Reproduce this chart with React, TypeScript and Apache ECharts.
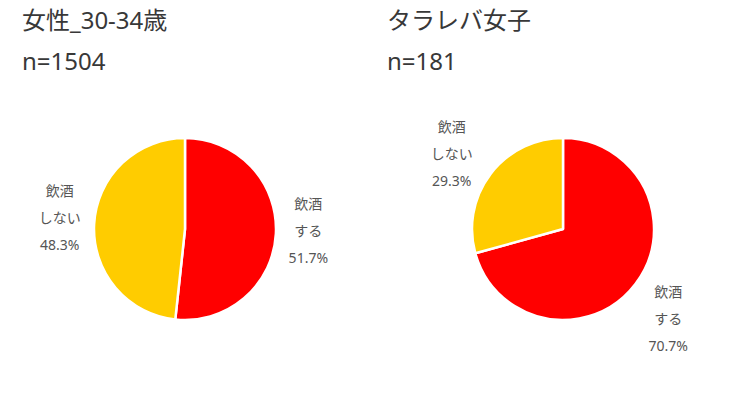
import React, { useEffect, useRef } from "react";
import * as echarts from "echarts";

const categories = ["飲酒\nする", "飲酒\nしない"];
const colors = ["#ff0000", "#ffcc00"];
const leftTitle = "女性_30-34歳";
const leftN = "n=1504";
const leftValues = [51.7, 48.3];
const rightTitle = "タラレバ女子";
const rightN = "n=181";
const rightValues = [70.7, 29.3];

const FONT = "'Noto Sans', 'Noto Sans CJK JP', sans-serif";

function pieSeries(values: number[], center: [number, number]) {
  return {
    type: "pie",
    center,
    radius: 91,
    startAngle: 90,
    clockwise: true,
    silent: true,
    label: { show: false },
    labelLine: { show: false },
    itemStyle: { borderColor: "#ffffff", borderWidth: 2.5 },
    data: values.map((v, i) => ({
      name: categories[i],
      value: v,
      itemStyle: { color: colors[i] },
    })),
  };
}

function labelSeries(values: number[], center: [number, number], radius: [number, number]) {
  return {
    type: "pie",
    center,
    radius,
    startAngle: 90,
    clockwise: true,
    silent: true,
    itemStyle: { color: "transparent", borderWidth: 0 },
    emphasis: { disabled: true },
    labelLine: { show: false },
    label: {
      show: true,
      position: "inside",
      color: "#555555",
      fontSize: 14,
      lineHeight: 27,
      fontFamily: FONT,
      align: "center",
      formatter: (p: any) => `${p.name}\n${Number(p.value).toFixed(1)}%`,
    },
    data: values.map((v, i) => ({ name: categories[i], value: v })),
  };
}

export default function App() {
  const ref = useRef<HTMLDivElement>(null);
  useEffect(() => {
    document.body.style.margin = "0";
    const chart = echarts.init(ref.current!, null, { renderer: "svg" });
    const titleStyle = {
      color: "#383838",
      fontSize: 24,
      fontWeight: "normal" as const,
      lineHeight: 41,
      fontFamily: FONT,
    };
    chart.setOption({
      animation: false,
      backgroundColor: "#ffffff",
      title: [
        { text: `${leftTitle}\n${leftN}`, left: 22, top: -1, padding: 0, textStyle: titleStyle },
        { text: `${rightTitle}\n${rightN}`, left: 387, top: -1, padding: 0, textStyle: titleStyle },
      ],
      series: [
        pieSeries(leftValues, [185, 229]),
        pieSeries(rightValues, [563, 229]),
        labelSeries(leftValues, [184, 224], [110, 133]),
        labelSeries(rightValues, [560, 236], [122, 144]),
      ],
    });
    return () => chart.dispose();
  }, []);
  return <div ref={ref} style={{ width: 750, height: 398 }} />;
}
